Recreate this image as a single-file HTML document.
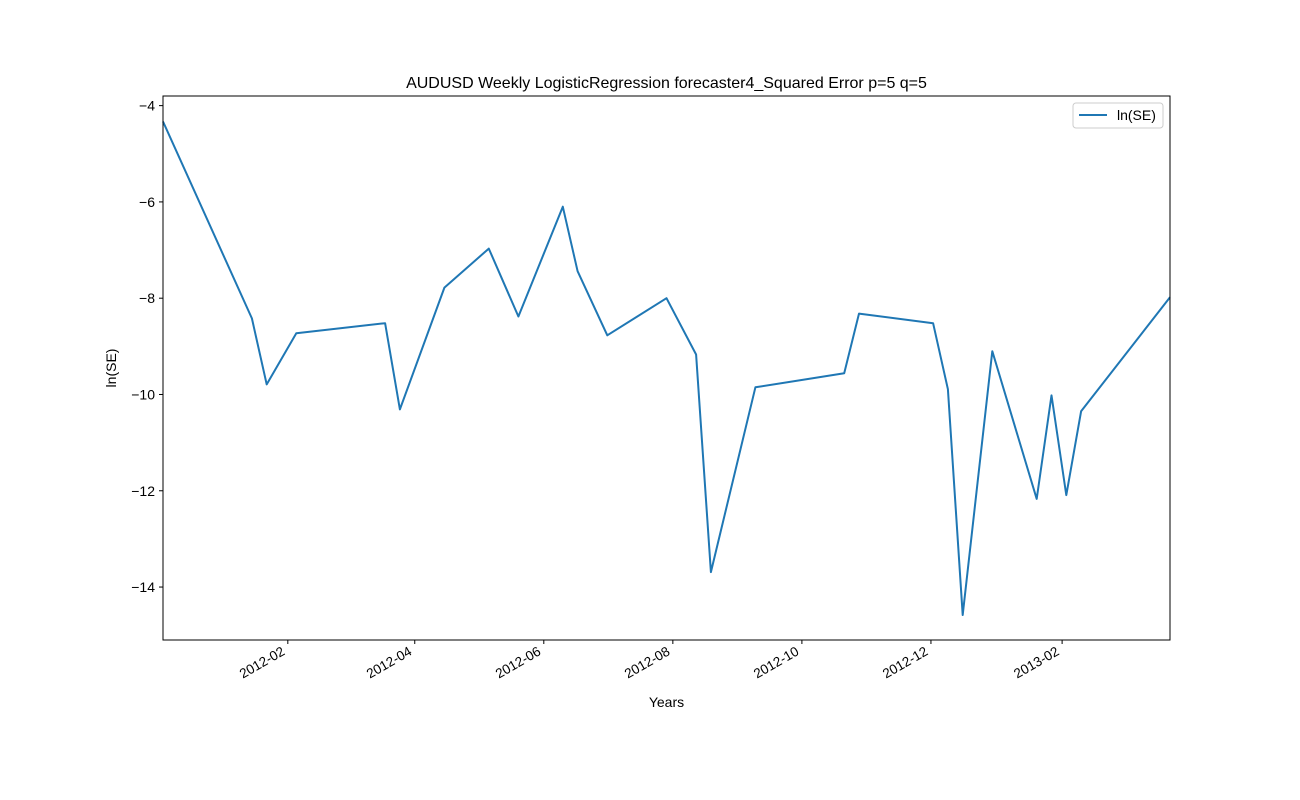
<!DOCTYPE html>
<html><head><meta charset="utf-8"><style>
html,body{margin:0;padding:0;background:#fff;}
svg{display:block;font-family:"Liberation Sans","DejaVu Sans",sans-serif;}
</style></head><body>
<svg id="chart" width="1300" height="800" viewBox="0 0 1300 800"></svg>
<script>
const dates = ["2011-12-04","2012-01-15","2012-01-22","2012-02-05","2012-03-18","2012-03-25","2012-04-15","2012-05-06","2012-05-20","2012-06-10","2012-06-17","2012-07-01","2012-07-29","2012-08-12","2012-08-19","2012-09-09","2012-10-21","2012-10-28","2012-12-02","2012-12-09","2012-12-16","2012-12-30","2013-01-20","2013-01-27","2013-02-03","2013-02-10","2013-03-24"];
const lnSE = [-4.33,-8.42,-9.79,-8.73,-8.52,-10.31,-7.78,-6.97,-8.38,-6.10,-7.44,-8.77,-8.00,-9.17,-13.69,-9.85,-9.56,-8.32,-8.52,-9.89,-14.58,-9.10,-12.17,-10.02,-12.09,-10.35,-7.98];
const yTicks = [-4,-6,-8,-10,-12,-14];
const xTickLabels = ["2012-02","2012-04","2012-06","2012-08","2012-10","2012-12","2013-02"];

const NS="http://www.w3.org/2000/svg";
const svg=document.getElementById('chart');
const L=163,R=1170,T=96,B=640;
const t=s=>Date.parse(s+(s.length===7?"-01":"")+"T00:00:00Z");
const x0=t(dates[0]), x1=t(dates[dates.length-1]);
const X=d=>L+(t(d)-x0)/(x1-x0)*(R-L);
const yMin=-15.1, yMax=-3.8;
const Y=v=>T+(yMax-v)/(yMax-yMin)*(B-T);
function el(tag,attrs,text){const e=document.createElementNS(NS,tag);for(const k in attrs)e.setAttribute(k,attrs[k]);if(text!==undefined)e.textContent=text;svg.appendChild(e);return e;}

const title=el('text',{x:(L+R)/2,y:88,'text-anchor':'middle','font-size':16},"AUDUSD Weekly LogisticRegression forecaster4_Squared Error p=5 q=5");



const pts=dates.map((d,i)=>X(d).toFixed(1)+","+Y(lnSE[i]).toFixed(1)).join(" ");
const line=el('polyline',{points:pts,fill:'none',stroke:'#1f77b4','stroke-width':2,'stroke-linejoin':'round'});



const frame=el('rect',{x:L,y:T,width:R-L,height:B-T,fill:'none',stroke:'#000','stroke-width':1});



yTicks.forEach(v=>{
  const y=Y(v);
  const tk=el('line',{x1:L-4,x2:L,y1:y,y2:y,stroke:'#000'});
  
  
  const lb=el('text',{x:L-8,y:y+5,'text-anchor':'end','font-size':14},"\u2212"+Math.abs(v));
  
  
});
xTickLabels.forEach(s=>{
  const x=X(s);
  const tk=el('line',{x1:x,x2:x,y1:B,y2:B+4,stroke:'#000'});
  
  
  const ax=x-2, ay=B+14;
  const lb=el('text',{x:ax,y:ay,'text-anchor':'end','font-size':13.5,transform:`rotate(-30 ${ax} ${ay})`},s);
  
  
});
const xt=el('text',{x:(L+R)/2,y:707,'text-anchor':'middle','font-size':14},"Years");


const yt=el('text',{x:116,y:(T+B)/2,'text-anchor':'middle','font-size':14,transform:`rotate(-90 116 ${(T+B)/2})`},"ln(SE)");



const lg=el('rect',{x:1073,y:103,width:90,height:25,rx:3,fill:'#fff',stroke:'#ccc'});


const ll=el('line',{x1:1079,x2:1107,y1:115,y2:115,stroke:'#1f77b4','stroke-width':2});


const lt=el('text',{x:1117,y:120,'font-size':14},"ln(SE)");


</script>
</body></html>
